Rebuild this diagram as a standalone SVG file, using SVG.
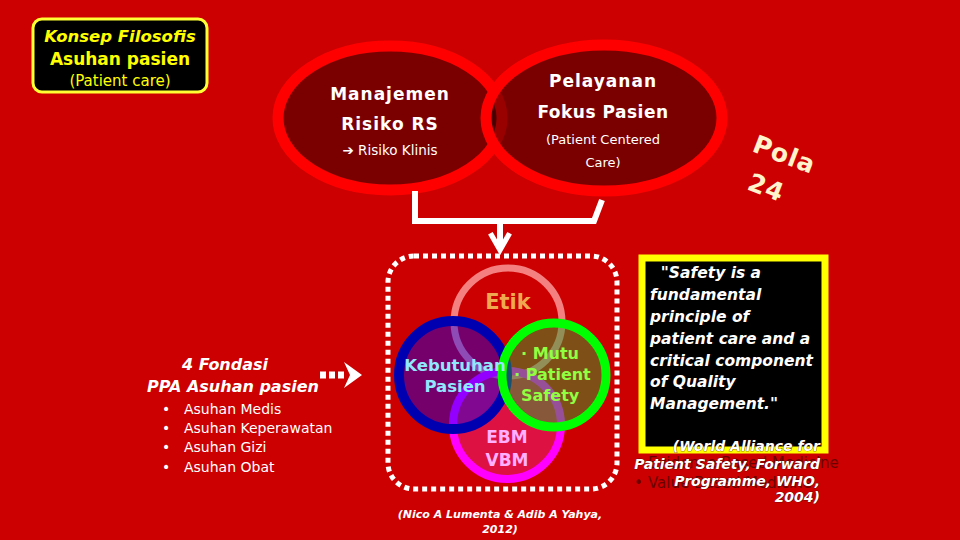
<svg xmlns="http://www.w3.org/2000/svg" width="960" height="540" viewBox="0 0 960 540">
<defs>
<style>
.b{font-family:"DejaVu Sans",Verdana,sans-serif;font-weight:bold}
.r{font-family:"DejaVu Sans",Verdana,sans-serif}
.bi{font-family:"DejaVu Sans",Verdana,sans-serif;font-weight:bold;font-style:italic}
.w{fill:#fff}
.shadow{fill:#fff;stroke:#300;stroke-width:0.6;paint-order:stroke}
</style>
<marker id="ah" viewBox="0 0 10 10" refX="8" refY="5" markerWidth="4" markerHeight="4" orient="auto" markerUnits="strokeWidth">
<path d="M1,1 L8,5 L1,9" fill="none" stroke="#fff" stroke-width="2.2"/>
</marker>
</defs>
<rect width="960" height="540" fill="#cc0000"/>

<g id="title">
<rect x="33" y="19" width="174" height="73" rx="9" fill="#000" stroke="#ffff33" stroke-width="3"/>
<text x="120" y="42" class="bi" font-size="16.5" fill="#ffff00" text-anchor="middle">Konsep Filosofis</text>
<text x="120" y="65" class="b" font-size="17" fill="#ffff00" text-anchor="middle">Asuhan pasien</text>
<text x="120" y="86" class="r" font-size="15" fill="#ffff00" text-anchor="middle">(Patient care)</text>
</g>

<g id="manajemen">
<ellipse cx="390" cy="118" rx="112" ry="72" fill="#000" fill-opacity="0.4" stroke="#ff0000" stroke-width="11"/>
<text x="390" y="100" class="b w" font-size="17" text-anchor="middle" letter-spacing="1">Manajemen</text>
<text x="390" y="130" class="b w" font-size="17" text-anchor="middle" letter-spacing="1">Risiko RS</text>
<text x="390" y="155" class="r w" font-size="13.5" text-anchor="middle">➔ Risiko Klinis</text>
</g>

<g id="pelayanan">
<ellipse cx="604" cy="118" rx="118" ry="73" fill="#000" fill-opacity="0.4" stroke="#ff0000" stroke-width="11"/>
<text x="603" y="87" class="b w" font-size="17" text-anchor="middle" letter-spacing="1">Pelayanan</text>
<text x="603" y="118" class="b w" font-size="17" text-anchor="middle" letter-spacing="0.5">Fokus Pasien</text>
<text x="603" y="144" class="r w" font-size="13" text-anchor="middle">(Patient Centered</text>
<text x="603" y="167" class="r w" font-size="13" text-anchor="middle">Care)</text>
</g>

<g id="pola">
<text class="b" font-size="25" fill="#fff3cc" transform="translate(751,151) rotate(21)" letter-spacing="1">Pola</text>
<text class="b" font-size="25" fill="#fff3cc" transform="translate(746,189) rotate(21)" letter-spacing="1">24</text>
</g>

<g id="connectors" fill="none" stroke="#fff" stroke-linejoin="miter">
<polyline points="415,191 415,221 594,221 602,200" stroke-width="6"/>
<line x1="500" y1="221" x2="500" y2="250" stroke-width="6" marker-end="url(#ah)"/>
<line x1="320" y1="375" x2="344" y2="375" stroke-width="7" stroke-dasharray="6 3"/>
<path d="M344,362 L362,375 L344,388 L350,375 Z" fill="#fff" stroke="none"/>
</g>

<g id="frame">
<rect x="388" y="256" width="229" height="233" rx="26" fill="none" stroke="#fff" stroke-width="5" stroke-dasharray="5 4"/>
</g>

<g id="etik">
<circle cx="508" cy="322" r="54" fill="none" stroke="#f48080" stroke-width="7"/>
<text x="508" y="309" class="b" font-size="21" fill="#f0a850" text-anchor="middle">Etik</text>
</g>

<g id="ebm">
<circle cx="507" cy="425" r="54" fill="#ff30c0" fill-opacity="0.35" stroke="#ff00ff" stroke-width="8"/>
<text x="507" y="443" class="b" font-size="17" fill="#ffb0ff" text-anchor="middle">EBM</text>
<text x="507" y="466" class="b" font-size="17" fill="#ffb0ff" text-anchor="middle">VBM</text>
</g>

<g id="kebutuhan">
<circle cx="453" cy="375" r="54" fill="#0000ff" fill-opacity="0.42" stroke="#0000b0" stroke-width="10"/>
</g>

<g id="mutu">
<circle cx="554" cy="375" r="52" fill="#30a030" fill-opacity="0.5" stroke="#00ff00" stroke-width="9"/>
<text x="521" y="359" class="b" font-size="16" fill="#90ff40">· Mutu</text>
<text x="514" y="380" class="b" font-size="16" fill="#90ff40">· Patient</text>
<text x="521" y="401" class="b" font-size="16" fill="#90ff40">Safety</text>
</g>

<g id="kebutuhan-label">
<text x="455" y="371" class="b" font-size="16.5" fill="#90e8ff" text-anchor="middle">Kebutuhan</text>
<text x="455" y="392" class="b" font-size="16.5" fill="#90e8ff" text-anchor="middle">Pasien</text>
</g>

<g id="fondasi">
<text x="225" y="370" class="bi w" font-size="16" text-anchor="middle" font-weight="normal">4 Fondasi</text>
<text x="147" y="392" class="bi w" font-size="16">PPA Asuhan pasien</text>
<g class="r w" font-size="14">
<text x="162" y="414">•</text><text x="184" y="414">Asuhan Medis</text>
<text x="162" y="433">•</text><text x="184" y="433">Asuhan Keperawatan</text>
<text x="162" y="452">•</text><text x="184" y="452">Asuhan Gizi</text>
<text x="162" y="472">•</text><text x="184" y="472">Asuhan Obat</text>
</g>
</g>

<g id="background-bullets" class="r" font-size="15" fill="#6a0000">
<text x="634" y="468">•</text><text x="648" y="468">Evidence Based Medicine</text>
<text x="634" y="488">•</text><text x="648" y="488">Value Based Medicine</text>
</g>

<g id="quote">
<rect x="642" y="258" width="183" height="192" fill="#000" stroke="#ffff00" stroke-width="7"/>
<g class="bi w" font-size="15.5">
<text x="650" y="278" xml:space="preserve">  "Safety is a</text>
<text x="650" y="300">fundamental</text>
<text x="650" y="322">principle of</text>
<text x="650" y="344">patient care and a</text>
<text x="650" y="366">critical component</text>
<text x="650" y="387">of Quality</text>
<text x="650" y="409">Management."</text>
</g>
<g class="bi shadow" font-size="14" text-anchor="end">
<text x="820" y="451">(World Alliance for</text>
<text x="820" y="469">Patient Safety, Forward</text>
<text x="820" y="486">Programme, WHO,</text>
<text x="820" y="502">2004)</text>
</g>
</g>

<g id="citation" class="bi w" font-size="11" text-anchor="middle">
<text x="500" y="518">(Nico A Lumenta &amp; Adib A Yahya,</text>
<text x="500" y="533">2012)</text>
</g>
</svg>
